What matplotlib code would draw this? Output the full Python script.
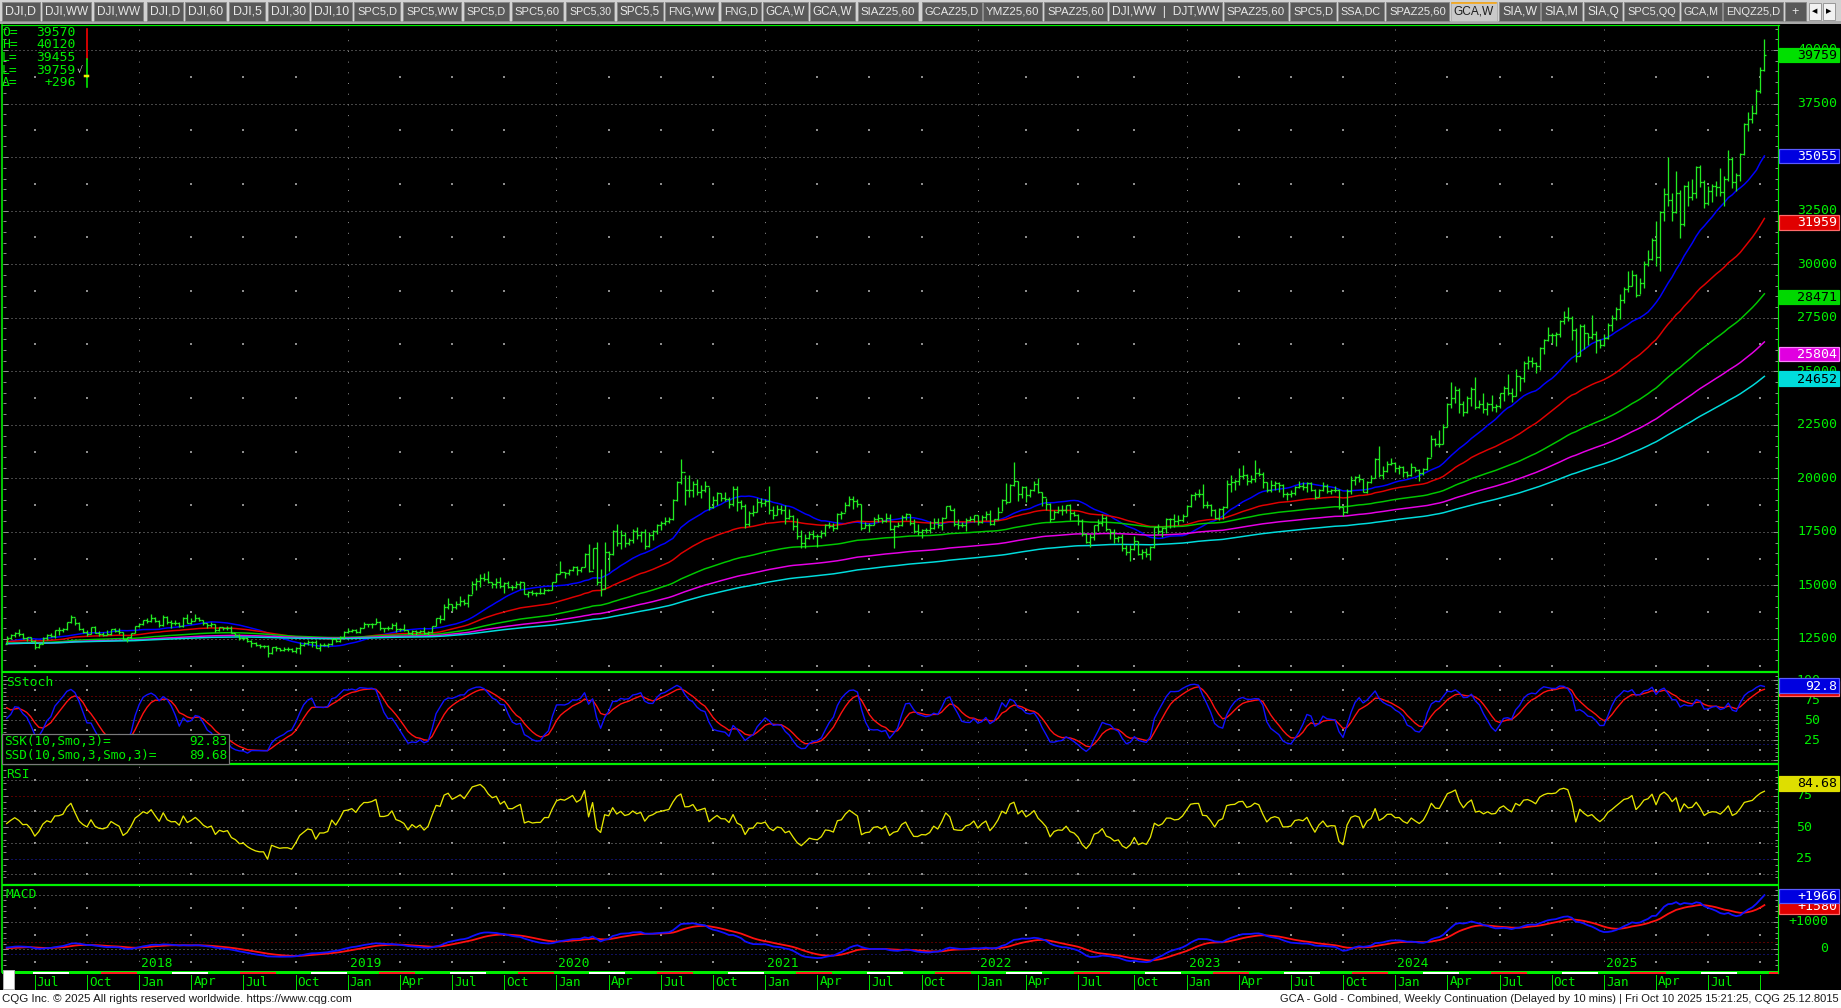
import numpy as np
import pandas as pd
import matplotlib
matplotlib.use("Agg")
import matplotlib.pyplot as plt
from matplotlib.patches import Rectangle
from matplotlib.ticker import MultipleLocator
from matplotlib import font_manager

# ---------------- data: gold weekly bars, $/oz ----------------
# closes before the visible window (Jun 2014 - May 2017), only feed the averages/oscillators
pre_close = [1253, 1274, 1316, 1320, 1320, 1337, 1310, 1307, 1294, 1309, 1306, 1280, 1287, 1268, 1231,
             1216, 1218, 1192, 1222, 1238, 1231, 1171, 1177, 1186, 1197, 1175, 1191, 1222, 1195, 1195,
             1189, 1216, 1277, 1294, 1279, 1234, 1227, 1205, 1213, 1164, 1152, 1184, 1199, 1201, 1207,
             1203, 1175, 1175, 1189, 1225, 1205, 1190, 1168, 1180, 1201, 1173, 1163, 1157, 1131, 1085,
             1095, 1094, 1113, 1160, 1134, 1121, 1108, 1138, 1145, 1137, 1156, 1177, 1162, 1142, 1088,
             1081, 1076, 1056, 1084, 1076, 1065, 1076,
             1061, 1098, 1089, 1098, 1116, 1158, 1239, 1230, 1221, 1271, 1250, 1255, 1216, 1221, 1243,
             1234, 1231, 1290, 1294, 1273, 1252, 1220, 1243, 1275, 1294, 1322, 1339, 1356, 1328, 1323,
             1357, 1344, 1336, 1346, 1324, 1326, 1335, 1310, 1342, 1316, 1257, 1254, 1267, 1276, 1304,
             1224, 1208, 1178, 1177, 1161, 1137, 1133, 1152,
             1173, 1197, 1210, 1191, 1220, 1234, 1239, 1258, 1226, 1201, 1230, 1249, 1251, 1256, 1288,
             1289, 1268, 1228, 1228]

first_bar = "2017-05-19"

close_2017 = [1254, 1268, 1280, 1271, 1256, 1257, 1242, 1213, 1228, 1255, 1269, 1264, 1290, 1291, 1297, 1330, 1351,
              1325, 1297, 1284, 1275, 1304, 1280, 1272, 1270, 1275, 1296, 1288, 1281, 1248, 1257, 1278, 1309]
high_2017 = [1262, 1272, 1284, 1296, 1280, 1261, 1259, 1245, 1233, 1258, 1272, 1279, 1294, 1306, 1300, 1331, 1362,
             1350, 1330, 1302, 1291, 1308, 1310, 1288, 1283, 1290, 1298, 1299, 1300, 1282, 1260, 1280, 1311]
low_2017 = [1226, 1249, 1260, 1266, 1252, 1242, 1236, 1205, 1206, 1225, 1245, 1259, 1255, 1270, 1281, 1292, 1327,
            1316, 1293, 1276, 1263, 1272, 1277, 1263, 1264, 1268, 1270, 1282, 1274, 1245, 1238, 1254, 1276]

close_2018 = [1322, 1338, 1333, 1350, 1333, 1316, 1353, 1330, 1323, 1324, 1312, 1349, 1327, 1336, 1348, 1337, 1323,
              1315, 1320, 1291, 1304, 1299, 1302, 1278, 1270, 1254, 1255, 1241, 1231, 1223, 1219, 1219, 1184, 1213,
              1206, 1200, 1201, 1201, 1196, 1207, 1222, 1229, 1236, 1234, 1210, 1223, 1223, 1226, 1252, 1241, 1258, 1283]
high_2018 = [1325, 1341, 1346, 1366, 1355, 1340, 1364, 1356, 1340, 1340, 1330, 1352, 1366, 1347, 1369, 1355, 1338,
             1326, 1328, 1322, 1308, 1308, 1309, 1313, 1280, 1273, 1261, 1260, 1245, 1238, 1228, 1223, 1220, 1214,
             1215, 1209, 1212, 1213, 1210, 1211, 1234, 1236, 1245, 1242, 1243, 1229, 1230, 1233, 1255, 1255, 1263, 1285]
low_2018 = [1305, 1315, 1326, 1330, 1331, 1308, 1311, 1322, 1303, 1316, 1306, 1307, 1323, 1321, 1332, 1335, 1316,
            1302, 1304, 1284, 1286, 1293, 1291, 1276, 1263, 1246, 1247, 1238, 1211, 1218, 1207, 1208, 1167, 1180,
            1196, 1192, 1195, 1195, 1187, 1186, 1182, 1218, 1221, 1212, 1208, 1196, 1218, 1212, 1221, 1238, 1237, 1256]

close_2019 = [1285, 1290, 1283, 1303, 1318, 1318, 1322, 1330, 1299, 1299, 1302, 1315, 1298, 1295, 1290, 1276, 1288,
              1281, 1287, 1276, 1284, 1311, 1346, 1344, 1400, 1413, 1400, 1412, 1427, 1419, 1457, 1509, 1523, 1537,
              1529, 1515, 1506, 1516, 1497, 1513, 1494, 1494, 1505, 1514, 1462, 1468, 1463, 1465, 1465, 1481, 1481, 1515]
high_2019 = [1299, 1297, 1298, 1306, 1331, 1322, 1327, 1349, 1335, 1303, 1312, 1325, 1330, 1301, 1319, 1293, 1292,
             1290, 1294, 1304, 1289, 1313, 1349, 1360, 1413, 1442, 1414, 1427, 1453, 1435, 1460, 1522, 1535, 1555,
             1556, 1566, 1517, 1535, 1540, 1518, 1522, 1500, 1519, 1521, 1517, 1475, 1479, 1469, 1487, 1487, 1485, 1518]
low_2019 = [1280, 1281, 1280, 1276, 1302, 1307, 1303, 1320, 1293, 1281, 1294, 1298, 1281, 1285, 1286, 1272, 1267,
            1267, 1279, 1272, 1267, 1280, 1310, 1323, 1341, 1389, 1381, 1391, 1405, 1411, 1400, 1458, 1481, 1494,
            1519, 1510, 1486, 1490, 1490, 1466, 1489, 1480, 1490, 1484, 1458, 1446, 1456, 1452, 1459, 1460, 1475, 1479]

close_2020 = [1553, 1562, 1560, 1572, 1587, 1573, 1586, 1649, 1566, 1674, 1516, 1484, 1654, 1645, 1752, 1699, 1735,
              1700, 1713, 1756, 1735, 1751, 1683, 1737, 1753, 1781, 1790, 1801, 1810, 1897, 1985, 2028, 1944, 1947,
              1975, 1934, 1947, 1962, 1866, 1900, 1930, 1906, 1905, 1879, 1952, 1889, 1872, 1788, 1840, 1843, 1888, 1883]
high_2020 = [1557, 1613, 1563, 1575, 1591, 1593, 1587, 1653, 1692, 1677, 1704, 1575, 1704, 1660, 1760, 1788, 1761,
             1748, 1722, 1765, 1775, 1752, 1765, 1749, 1760, 1789, 1800, 1820, 1818, 1905, 1988, 2089, 2015, 2015,
             1990, 1995, 1968, 1990, 1960, 1917, 1936, 1933, 1936, 1915, 1966, 1966, 1900, 1880, 1848, 1874, 1907, 1907]
low_2020 = [1514, 1553, 1536, 1550, 1566, 1548, 1564, 1584, 1564, 1576, 1504, 1451, 1482, 1568, 1640, 1682, 1672,
            1680, 1690, 1697, 1717, 1701, 1670, 1679, 1711, 1742, 1760, 1780, 1792, 1806, 1892, 1974, 1874, 1915,
            1911, 1920, 1908, 1938, 1851, 1862, 1876, 1892, 1894, 1860, 1873, 1848, 1855, 1767, 1776, 1823, 1845, 1864]

close_2021 = [1895, 1850, 1830, 1856, 1850, 1814, 1824, 1777, 1729, 1700, 1720, 1742, 1733, 1729, 1744, 1780, 1777,
              1768, 1832, 1838, 1877, 1905, 1892, 1879, 1769, 1781, 1784, 1811, 1815, 1802, 1817, 1763, 1779, 1784,
              1819, 1833, 1792, 1752, 1751, 1760, 1758, 1768, 1796, 1783, 1817, 1869, 1852, 1788, 1784, 1783, 1805,
              1811, 1829]
high_2021 = [1904, 1963, 1870, 1876, 1875, 1876, 1855, 1830, 1815, 1760, 1740, 1756, 1758, 1740, 1759, 1785, 1797,
             1790, 1836, 1846, 1890, 1916, 1919, 1903, 1879, 1796, 1790, 1818, 1834, 1814, 1836, 1833, 1783, 1795,
             1830, 1836, 1834, 1809, 1788, 1765, 1770, 1801, 1814, 1814, 1818, 1872, 1877, 1861, 1810, 1795, 1815,
             1823, 1831]
low_2021 = [1871, 1834, 1809, 1831, 1832, 1785, 1812, 1760, 1717, 1677, 1676, 1717, 1716, 1681, 1723, 1730, 1766,
            1756, 1765, 1808, 1844, 1870, 1855, 1866, 1761, 1767, 1750, 1784, 1795, 1790, 1796, 1759, 1677, 1773,
            1779, 1806, 1784, 1743, 1737, 1721, 1745, 1747, 1762, 1770, 1759, 1815, 1850, 1778, 1762, 1771, 1754,
            1800, 1797]

close_2022 = [1797, 1818, 1832, 1786, 1808, 1842, 1900, 1889, 1967, 1986, 1929, 1958, 1924, 1945, 1975, 1934, 1911,
              1882, 1808, 1842, 1852, 1850, 1875, 1840, 1830, 1801, 1742, 1703, 1727, 1782, 1791, 1816, 1762, 1749,
              1722, 1728, 1677, 1655, 1672, 1709, 1648, 1657, 1645, 1681, 1771, 1754, 1768, 1810, 1810, 1800, 1804, 1826]
high_2022 = [1831, 1829, 1848, 1853, 1811, 1865, 1904, 1976, 1975, 2078, 1990, 1966, 1966, 1952, 1988, 2003, 1936,
             1910, 1885, 1850, 1870, 1875, 1877, 1880, 1847, 1832, 1810, 1745, 1740, 1784, 1808, 1832, 1824, 1765,
             1765, 1731, 1739, 1688, 1687, 1731, 1709, 1671, 1675, 1686, 1775, 1787, 1771, 1815, 1814, 1832, 1830, 1834]
low_2022 = [1782, 1790, 1806, 1780, 1780, 1807, 1849, 1878, 1888, 1964, 1895, 1910, 1890, 1915, 1940, 1932, 1872,
            1850, 1797, 1812, 1836, 1828, 1836, 1806, 1824, 1784, 1733, 1696, 1680, 1711, 1754, 1779, 1756, 1719,
            1699, 1705, 1663, 1641, 1615, 1667, 1642, 1623, 1632, 1617, 1673, 1740, 1728, 1747, 1770, 1775, 1784, 1797]

close_2023 = [1870, 1921, 1928, 1929, 1876, 1874, 1850, 1817, 1856, 1867, 1973, 1983, 1986, 2011, 2015, 1990, 1999,
              2025, 2019, 1981, 1944, 1969, 1977, 1971, 1929, 1929, 1933, 1960, 1964, 1960, 1976, 1946, 1915, 1947,
              1966, 1942, 1946, 1945, 1866, 1845, 1941, 1994, 2006, 1999, 1937, 1984, 2003, 2089, 2014, 2034, 2069, 2071]
high_2023 = [1877, 1925, 1937, 1949, 1975, 1893, 1880, 1856, 1860, 1870, 1993, 2015, 1998, 2049, 2063, 2020, 2015,
             2085, 2048, 2028, 1985, 1993, 1988, 1981, 1975, 1935, 1945, 1966, 1990, 1985, 1982, 1982, 1948, 1950,
             1983, 1972, 1950, 1965, 1948, 1868, 1948, 2009, 2012, 2019, 1999, 1990, 2016, 2095, 2152, 2057, 2081, 2095]
low_2023 = [1825, 1866, 1900, 1911, 1862, 1861, 1825, 1810, 1805, 1809, 1862, 1935, 1944, 1969, 1995, 1971, 1976,
            1985, 2010, 1956, 1937, 1935, 1945, 1935, 1915, 1900, 1912, 1924, 1955, 1944, 1935, 1940, 1903, 1912,
            1940, 1932, 1925, 1935, 1858, 1823, 1840, 1925, 1970, 1983, 1935, 1933, 1980, 2000, 2008, 1998, 2028, 2063]

close_2024 = [2050, 2051, 2029, 2018, 2054, 2038, 2024, 2045, 2096, 2186, 2161, 2159, 2238, 2345, 2374, 2413, 2348,
              2309, 2375, 2418, 2334, 2345, 2325, 2349, 2334, 2339, 2397, 2421, 2400, 2386, 2480, 2467, 2538, 2546,
              2537, 2524, 2610, 2646, 2668, 2667, 2676, 2736, 2755, 2749, 2694, 2570, 2712, 2681, 2658, 2675, 2645, 2621]
high_2024 = [2078, 2064, 2057, 2036, 2071, 2054, 2045, 2050, 2101, 2203, 2190, 2225, 2256, 2350, 2448, 2431, 2420,
             2360, 2385, 2425, 2475, 2365, 2400, 2356, 2390, 2345, 2400, 2430, 2485, 2420, 2510, 2480, 2550, 2570,
             2566, 2545, 2614, 2650, 2708, 2680, 2685, 2740, 2780, 2801, 2760, 2700, 2722, 2720, 2680, 2761, 2690, 2650]
low_2024 = [2030, 2021, 2005, 2005, 2010, 2030, 1990, 2017, 2039, 2100, 2150, 2148, 2160, 2240, 2330, 2350, 2305,
            2290, 2306, 2340, 2325, 2327, 2305, 2298, 2315, 2311, 2327, 2360, 2390, 2358, 2385, 2410, 2450, 2510,
            2520, 2490, 2505, 2580, 2640, 2630, 2620, 2660, 2722, 2735, 2645, 2541, 2570, 2605, 2623, 2650, 2583, 2610]

close_2025 = [2654, 2715, 2748, 2791, 2835, 2886, 2900, 2948, 2857, 2914, 3001, 3024, 3114, 3035, 3245, 3328, 3298,
              3243, 3334, 3187, 3365, 3315, 3331, 3452, 3385, 3287, 3342, 3364, 3359, 3336, 3399, 3491, 3382, 3418,
              3516, 3653, 3680, 3705, 3809, 3908, 3976]
high_2025 = [2672, 2725, 2763, 2800, 2862, 2895, 2968, 2975, 2956, 2935, 3017, 3065, 3120, 3201, 3250, 3357, 3500,
             3330, 3435, 3345, 3370, 3390, 3400, 3460, 3465, 3395, 3365, 3375, 3390, 3450, 3410, 3534, 3500, 3425,
             3520, 3660, 3710, 3745, 3820, 3920, 4051]
low_2025 = [2617, 2650, 2690, 2740, 2745, 2820, 2870, 2900, 2845, 2860, 2890, 2990, 3020, 2990, 2970, 3200, 3270,
            3200, 3240, 3120, 3180, 3270, 3300, 3310, 3360, 3260, 3275, 3290, 3320, 3320, 3270, 3390, 3355, 3340,
            3390, 3510, 3620, 3660, 3700, 3800, 3900]

header_labels = ["O=", "H=", "L=", "L=", "\u0394="]
header_values = ["39570", "40120", "39455", "39759", "+296"]
# moving averages: (kind, weeks)
ma_specs = [("sma", 20), ("ema", 50), ("ema", 100), ("ema", 150), ("ema", 200)]
ma_last = [35055, 31959, 28471, 25804, 24652]
last_close = 39759
ssk_last, ssd_last = 92.83, 89.68
rsi_last = 84.68
macd_last, signal_last = 1966, 1580
price_ticks = [12500, 15000, 17500, 20000, 22500, 25000, 27500, 30000, 32500, 35000, 37500, 40000]
stoch_ticks = [25, 50, 75, 100]
rsi_ticks = [25, 50, 75]
macd_ticks = [0, 1000, 2000]

tab_labels = ["DJI,D", "DJI,WW", "DJI,WW", "DJI,D", "DJI,60", "DJI,5", "DJI,30", "DJI,10", "SPC5,D", "SPC5,WW",
              "SPC5,D", "SPC5,60", "SPC5,30", "SPC5,5", "FNG,WW", "FNG,D", "GCA,W", "GCA,W", "SIAZ25,60",
              "GCAZ25,D", "YMZ25,60", "SPAZ25,60", "DJI,WW  |  DJT,WW", "SPAZ25,60", "SPC5,D", "SSA,DC",
              "SPAZ25,60", "GCA,W", "SIA,W", "SIA,M", "SIA,Q", "SPC5,QQ", "GCA,M", "ENQZ25,D", "+"]
footer_left = "CQG Inc. \u00a9 2025 All rights reserved worldwide. https://www.cqg.com"
footer_right = ("GCA - Gold - Combined, Weekly Continuation (Delayed by 10 mins) | "
                "Fri Oct 10 2025 15:21:25, CQG 25.12.8015")

# ---------------- layout (pixels) ----------------
W, H = 1841, 1008
PX = 0.72
tab_edges = [(2, 40), (42, 91), (94, 143), (147, 183), (185, 226), (229, 265), (268, 309), (311, 352),
             (354, 400), (403, 461), (464, 509), (512, 563), (566, 614), (617, 663), (665, 718), (721, 761),
             (763, 808), (810, 855), (858, 918), (922, 982), (983, 1042), (1044, 1107), (1109, 1222),
             (1224, 1288), (1290, 1336), (1338, 1384), (1386, 1449), (1451, 1497), (1499, 1540), (1541, 1582),
             (1584, 1622), (1624, 1679), (1681, 1722), (1723, 1783), (1785, 1806)]
ACTIVE_TAB = 27
X0, X1 = 3, 1778
BAR0, STEP = 6.7, 4.013

GREEN = "#00f000"
BAR = "#22ec22"
GRID = "#8c8c8c"
MONO = "DejaVu Sans Mono"
installed = {f.name for f in font_manager.fontManager.ttflist}
NARROW = "Liberation Sans Narrow" if "Liberation Sans Narrow" in installed else "Liberation Sans"

# ---------------- series ----------------
close = np.array(close_2017 + close_2018 + close_2019 + close_2020 + close_2021 +
                 close_2022 + close_2023 + close_2024 + close_2025, dtype=float)
high = np.array(high_2017 + high_2018 + high_2019 + high_2020 + high_2021 +
                high_2022 + high_2023 + high_2024 + high_2025, dtype=float)
low = np.array(low_2017 + low_2018 + low_2019 + low_2020 + low_2021 +
               low_2022 + low_2023 + low_2024 + low_2025, dtype=float)
n = len(close)
npre = len(pre_close)
dates = pd.date_range(first_bar, periods=n, freq="7D")
xb = np.arange(n)

c_all = pd.Series(np.r_[pre_close, close] * 10)
h_all = pd.Series(np.r_[pre_close, high] * 10)
l_all = pd.Series(np.r_[pre_close, low] * 10)
opens = c_all.to_numpy()[npre - 1:-1]

mas = []
for kind, L in ma_specs:
    m = c_all.rolling(L).mean() if kind == "sma" else c_all.ewm(span=L, adjust=False).mean()
    mas.append(m.to_numpy()[npre:])
hh = h_all.rolling(10).max()
ll = l_all.rolling(10).min()
fast_k = 100 * (c_all - ll) / (hh - ll)
ssk = fast_k.ewm(alpha=1 / 3, adjust=False).mean()
ssd = ssk.ewm(alpha=1 / 3, adjust=False).mean()
d = c_all.diff()
up = d.clip(lower=0).ewm(alpha=1 / 14, adjust=False).mean()
dn = (-d.clip(upper=0)).ewm(alpha=1 / 14, adjust=False).mean()
rsi = 100 - 100 / (1 + up / dn)
macd = c_all.ewm(span=12, adjust=False).mean() - c_all.ewm(span=26, adjust=False).mean()
signal = macd.ewm(span=9, adjust=False).mean()
ssk, ssd, rsi = ssk.to_numpy()[npre:], ssd.to_numpy()[npre:], rsi.to_numpy()[npre:]
macd, signal = macd.to_numpy()[npre:], signal.to_numpy()[npre:]

new_month = np.r_[True, dates.month[1:] != dates.month[:-1]]
qtr = np.where(new_month & np.isin(dates.month, [1, 4, 7, 10]))[0]
years = qtr[dates.month[qtr] == 1]
quarters = qtr[dates.month[qtr] != 1]

# ---------------- figure ----------------
fig = plt.figure(figsize=(W / 100, H / 100), dpi=100, facecolor="black")
bg = fig.add_axes([0, 0, 1, 1], zorder=0)
bg.set_xlim(0, W)
bg.set_ylim(H, 0)
bg.axis("off")
ov = fig.add_axes([0, 0, 1, 1], zorder=10)
ov.set_xlim(0, W)
ov.set_ylim(H, 0)
ov.axis("off")

xlim = ((X0 - BAR0) / STEP, (X1 - BAR0) / STEP)


def panel(top, bottom, ylim, major, minor):
    ax = fig.add_axes([X0 / W, 1 - bottom / H, (X1 - X0) / W, (bottom - top) / H], zorder=2)
    ax.set_facecolor("black")
    ax.set_xlim(*xlim)
    ax.set_ylim(*ylim)
    for s in ax.spines.values():
        s.set_visible(False)
    ax.set_xticks([])
    ax.yaxis.set_major_locator(MultipleLocator(major))
    ax.yaxis.set_minor_locator(MultipleLocator(minor))
    ax.tick_params(axis="y", which="both", direction="in", left=True, right=True,
                   labelleft=False, labelright=False, color=GRID, width=PX)
    ax.tick_params(axis="y", which="major", length=5 * PX)
    ax.tick_params(axis="y", which="minor", length=3 * PX)
    return ax


axp = panel(25, 672, (10959, 41167), 2500, 500)
axs = panel(672, 764, (-5, 110), 25, 5)
axr = panel(764, 885, (3.97, 100), 25, 5)
axm = panel(885, 972, (-852, 2370), 1000, 200)


def ypix(ax, v):
    return H - ax.transData.transform((0, v))[1]


def xpix(i):
    return axp.transData.transform((i, 0))[0]


# grids
def dotted_h(ax, v, color=GRID, gap=3):
    ax.axhline(v, color=color, lw=PX, dashes=(1, gap), zorder=0)


def verticals(ax, mids):
    for i in years:
        ax.axvline(i, color=GRID, lw=PX, dashes=(1, 9.7), zorder=0)
    lo, hi = ax.get_ylim()
    mids = [m for m in mids if lo < m < hi]
    for i in quarters:
        ax.scatter([i] * len(mids), mids, s=0.6, marker="s", color=GRID, lw=0, zorder=0)


for v in range(12500, 40001, 2500):
    dotted_h(axp, v)
verticals(axp, np.arange(11250, 41000, 2500))
for v in (0, 25, 50, 75, 100):
    dotted_h(axs, v)
dotted_h(axs, 80, "#b00000")
dotted_h(axs, 20, "#2020c0")
verticals(axs, [12.5, 37.5, 62.5, 87.5])
for v in (12.5, 37.5, 50, 62.5, 87.5):
    dotted_h(axr, v)
dotted_h(axr, 75, "#b00000")
dotted_h(axr, 25, "#2020c0")
verticals(axr, [12.5, 37.5, 62.5, 87.5])
for v in (0, 1000, 2000):
    dotted_h(axm, v)
dotted_h(axm, 250, "#b00000")
dotted_h(axm, -200, "#2020c0")
verticals(axm, [-500, 500, 1500])

# price panel
ma_colors = ["#0000ff", "#e00000", "#00c800", "#e600e6", "#00dcdc"]
for m, col in zip(mas, ma_colors):
    axp.plot(xb, m, color=col, lw=1.5 * PX, zorder=2)
axp.vlines(xb, low * 10, high * 10, color=BAR, lw=1.3 * PX, zorder=3)
axp.hlines(opens, xb - 0.5, xb, color=BAR, lw=1.3 * PX, zorder=3)
axp.hlines(close * 10, xb, xb + 0.5, color=BAR, lw=1.3 * PX, zorder=3)

# oscillators
axs.plot(xb, ssd, color="#ff1010", lw=1.4 * PX, zorder=2)
axs.plot(xb, ssk, color="#1010ff", lw=1.4 * PX, zorder=3)
axr.plot(xb, rsi, color="#e6e600", lw=1.3 * PX, zorder=2)
axm.plot(xb, signal, color="#ff1010", lw=1.8 * PX, zorder=2)
axm.plot(xb, macd, color="#1010ff", lw=1.8 * PX, zorder=3)

# ---------------- frame / chrome ----------------
bg.add_patch(Rectangle((0, 0), W, 22, facecolor="#d2d2d2", lw=0))
bg.add_patch(Rectangle((0, 21), W, 2.5, facecolor="#a8a8a8", lw=0))
bg.add_patch(Rectangle((0, 990), W, 18, facecolor="white", lw=0))

renderer = fig.canvas.get_renderer()
for k, ((l, r), lab) in enumerate(zip(tab_edges, tab_labels)):
    active = k == ACTIVE_TAB
    bg.add_patch(Rectangle((l, 2), r - l, 19, facecolor="#c9c9c9" if active else "#595959",
                           edgecolor="#b0b0b0" if active else "#8a8a8a", lw=PX))
    if active:
        bg.plot([l + 1, r - 1], [2.5, 2.5], color="#ffa500", lw=1.5 * PX)
    t = bg.text((l + r) / 2, 11.8, lab, ha="center", va="center", family=NARROW,
                fontsize=12.5 * PX, color="#1e1e1e" if active else "#e8e8e8")
    w = t.get_window_extent(renderer).width
    if w > r - l - 6:
        t.set_fontsize(t.get_fontsize() * (r - l - 6) / w)
for xa, glyph in ((1809, "\u25c0"), (1823, "\u25b6")):
    bg.add_patch(Rectangle((xa, 3), 12, 17, facecolor="#f2f2f2", edgecolor="#9a9a9a", lw=PX))
    bg.text(xa + 6, 11.5, glyph, ha="center", va="center", fontsize=5, color="black", family="DejaVu Sans")

# panel separators and borders
for yy in (672, 764, 885):
    ov.plot([X0 - 1, X1 + 1], [yy, yy], color="#00f000", lw=2.2 * PX, solid_capstyle="butt")
ov.plot([X0 - 1, X1 + 1], [25, 25], color="#00f000", lw=1.2 * PX)
ov.plot([2.2, 2.2], [25, 972], color="#00f000", lw=1.6 * PX)
ov.plot([X1 + 0.5, X1 + 0.5], [25, 973], color="#00f000", lw=1.2 * PX)

# date strip
ov.add_patch(Rectangle((X0 - 1, 970.8), X1 - X0 + 2, 3.6, facecolor="#00f000", lw=0, zorder=2))
CYCLE, SEG = 34.64, 8.97
for start, col in ((6.55, "white"), (23.5, "#ff2020")):
    s = start
    while s < xlim[1]:
        a, b = xpix(s), min(xpix(s + SEG), X1)
        if b > a:
            ov.add_patch(Rectangle((a, 971.6), b - a, 2.0, facecolor=col, lw=0, zorder=3))
        s += CYCLE
ov.add_patch(Rectangle((3, 969.5), 11.5, 19, facecolor="white", edgecolor="#b0b0b0", lw=PX, zorder=4))
for i in qtr:
    xp = xpix(i)
    ov.plot([xp, xp], [974.5, 988.5], color="#00dd00", lw=PX, zorder=3)
    if xp + 24 < X1:
        ov.text(xp + 2, 982, dates[i].strftime("%b"), color=GREEN, family=MONO, fontsize=12.5 * PX,
                ha="left", va="center", zorder=3)
for i in years:
    ov.text(xpix(i) + 2, 963.5, str(dates[i].year), color=GREEN, family=MONO, fontsize=13 * PX,
            ha="left", va="center", zorder=3)

# panel titles
for title, yy in (("SStoch", 682.5), ("RSI", 774), ("MACD", 895)):
    ov.text(6, yy, title, color=GREEN, family=MONO, fontsize=13 * PX, ha="left", va="center")

# stochastic info box
ov.add_patch(Rectangle((2, 734), 227, 29.5, facecolor="black", edgecolor="#7a7a7a", lw=1.2 * PX, zorder=4))
for yy, lab, val in ((741.5, "SSK(10,Smo,3)=", ssk_last), (755.5, "SSD(10,Smo,3,Smo,3)=", ssd_last)):
    ov.text(4, yy, lab, color=GREEN, family=MONO, fontsize=12.8 * PX, ha="left", va="center", zorder=5)
    ov.text(227, yy, f"{val:.2f}", color=GREEN, family=MONO, fontsize=12.8 * PX, ha="right", va="center", zorder=5)

# OHLC header
for k, (lab, val) in enumerate(zip(header_labels, header_values)):
    yy = 32 + 12.7 * k
    ov.text(2, yy, lab, color=GREEN, family=MONO, fontsize=13 * PX, ha="left", va="center")
    ov.text(76, yy, val, color=GREEN, family=MONO, fontsize=13 * PX, ha="right", va="center")
ov.text(76.5, 32 + 12.7 * 3, "\u221a", color="#e0e0e0", family="DejaVu Sans", fontsize=9 * PX,
        ha="left", va="center")
ov.plot([87, 87], [29, 59], color="#ff0000", lw=1.6 * PX)
ov.plot([87, 87], [59, 87], color="#00f000", lw=1.6 * PX)
ov.plot([85.5, 88.5], [76, 76], color="#f0f000", lw=2.5 * PX)

# right-hand scale labels
for v in price_ticks:
    ov.text(1837, ypix(axp, v), str(v), color=GREEN, family=MONO, fontsize=13.2 * PX, ha="right", va="center", zorder=3)
for v in stoch_ticks:
    ov.text(1820, ypix(axs, v), str(v), color=GREEN, family=MONO, fontsize=13.2 * PX, ha="right", va="center", zorder=3)
for v in rsi_ticks:
    ov.text(1812, ypix(axr, v), str(v), color=GREEN, family=MONO, fontsize=13.2 * PX, ha="right", va="center", zorder=3)
for v in macd_ticks:
    ov.text(1828, ypix(axm, v), f"+{v}" if v else "0", color=GREEN, family=MONO, fontsize=13.2 * PX,
            ha="right", va="center", zorder=3)


def value_box(ax, v, text, face, fg, edge, z):
    y = ypix(ax, v)
    ov.add_patch(Rectangle((1779, y - 7.3), 60, 14.6, facecolor=face, edgecolor=edge, lw=1.2 * PX, zorder=z))
    ov.text(1837, y + 0.3, text, color=fg, family=MONO, fontsize=13.2 * PX, ha="right", va="center", zorder=z + 1)


value_box(axp, last_close, f"{last_close}", "#00e000", "black", "#00e000", 4)
box_style = [("#0000e0", "white", "#5a5aff"), ("#e00000", "white", "#ff6a6a"), ("#00d800", "black", "#00d800"),
             ("#e000e0", "white", "#ff80ff"), ("#00dcdc", "black", "#00dcdc")]
for v, (face, fg, edge) in zip(ma_last, box_style):
    value_box(axp, v, str(v), face, fg, edge, 4)
value_box(axs, ssd_last, "", "#e00000", "white", "#ff6a6a", 4)
value_box(axs, ssk_last, f"{ssk_last:.1f}", "#0000e0", "white", "#5a5aff", 6)
value_box(axr, rsi_last, f"{rsi_last:.2f}", "#dede00", "black", "#dede00", 4)
value_box(axm, signal_last, f"+{signal_last}", "#e00000", "white", "#ff6a6a", 4)
value_box(axm, macd_last, f"+{macd_last}", "#0000e0", "white", "#5a5aff", 6)

# footer
tl = bg.text(2, 999.5, footer_left, color="#1a1a1a", family=NARROW, fontsize=12.5 * PX, ha="left", va="center")
tl.set_fontsize(tl.get_fontsize() * 350 / tl.get_window_extent(renderer).width)
tr = bg.text(1839, 999.5, footer_right, color="#1a1a1a", family=NARROW, fontsize=12.5 * PX, ha="right", va="center")
tr.set_fontsize(tr.get_fontsize() * 556 / tr.get_window_extent(renderer).width)

fig.savefig("out.png", dpi=100, facecolor=fig.get_facecolor())
